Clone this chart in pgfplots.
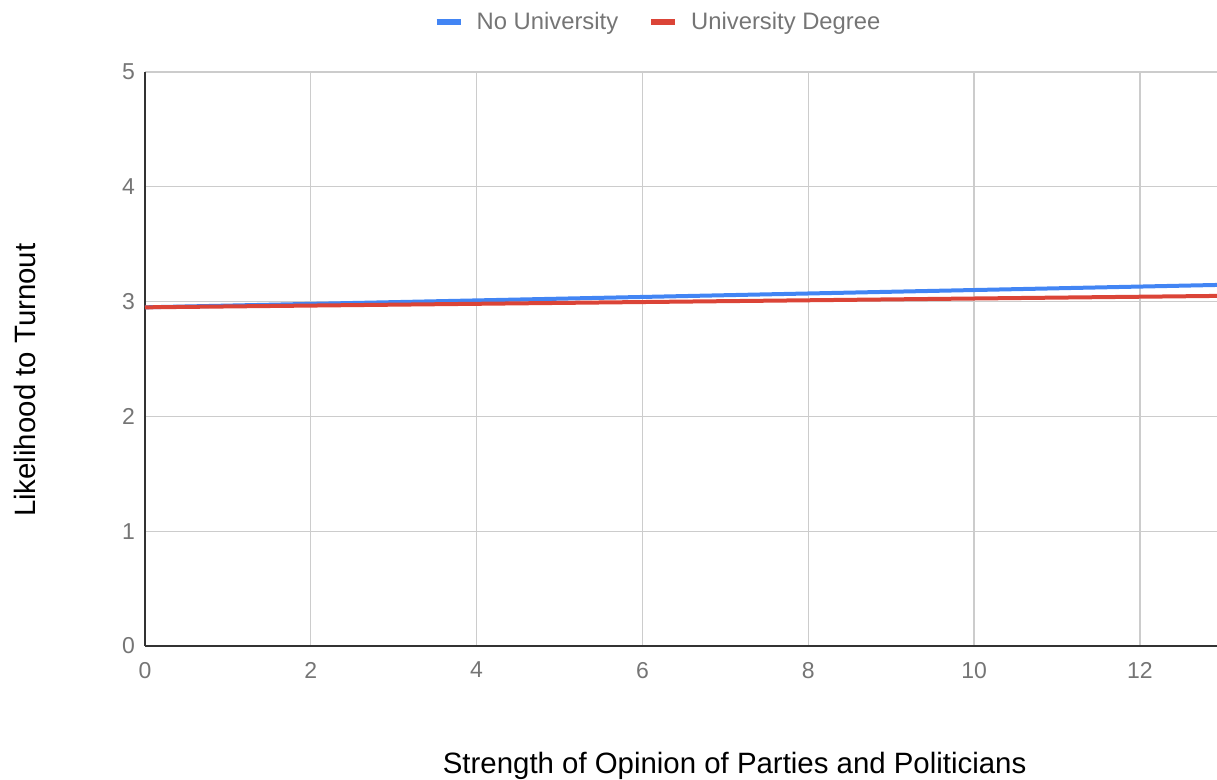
\documentclass[border=0pt]{standalone}
\usepackage{pgfplots}
\pgfplotsset{compat=1.18}
\usepackage{fontspec}
\setmainfont{Liberation Sans}
\definecolor{seriesblue}{HTML}{4285F4}
\definecolor{seriesred}{HTML}{DB4437}
\definecolor{gridgray}{HTML}{CCCCCC}
\definecolor{labelgray}{HTML}{757575}
\definecolor{axisdark}{HTML}{333333}

\begin{document}
\begin{tikzpicture}
\useasboundingbox (-72.5pt,-67pt) rectangle (536pt,323pt);
\begin{axis}[
  scale only axis,
  width=536pt, height=287pt,
  xmin=0, xmax=12.93,
  ymin=0, ymax=5,
  xtick={0,2,...,12},
  ytick={0,1,...,5},
  grid=major,
  major grid style={gridgray, line width=0.6pt},
  axis x line*=bottom,
  axis y line*=left,
  axis line style={axisdark, line width=0.8pt},
  tick style={draw=none},
  every tick label/.append style={font=\fontsize{11.5}{13}\selectfont, text=labelgray},
  /pgf/number format/assume math mode=true,
  xticklabel style={yshift=-4.5pt},
  yticklabel style={xshift=-1.5pt},
  xlabel={Strength of Opinion of Parties and Politicians},
  ylabel={Likelihood to Turnout},
  label style={font=\fontsize{14.7}{17}\selectfont, text=black},
  xlabel style={at={(axis description cs:0.55,-0.209)}, anchor=center},
  ylabel style={at={(axis description cs:-0.112,0.463)}, anchor=center},
  legend columns=2,
  legend style={draw=none, fill=none, at={(axis description cs:0.4795,1.087)}, anchor=center,
    font=\fontsize{11.9}{14}\selectfont, text=labelgray,
    /tikz/every even column/.append style={column sep=13pt}},
  legend image code/.code={\draw[#1, line width=3pt] (0pt,0pt) -- (12pt,0pt);
    \path (17pt,0pt);},
  clip=true,
]
\addplot[seriesblue, line width=2pt] coordinates {(0,2.95) (13,3.146)};
\addlegendentry{No University}
\addplot[seriesred, line width=2pt] coordinates {(0,2.95) (13,3.05)};
\addlegendentry{University Degree}
\end{axis}
\end{tikzpicture}
\end{document}
